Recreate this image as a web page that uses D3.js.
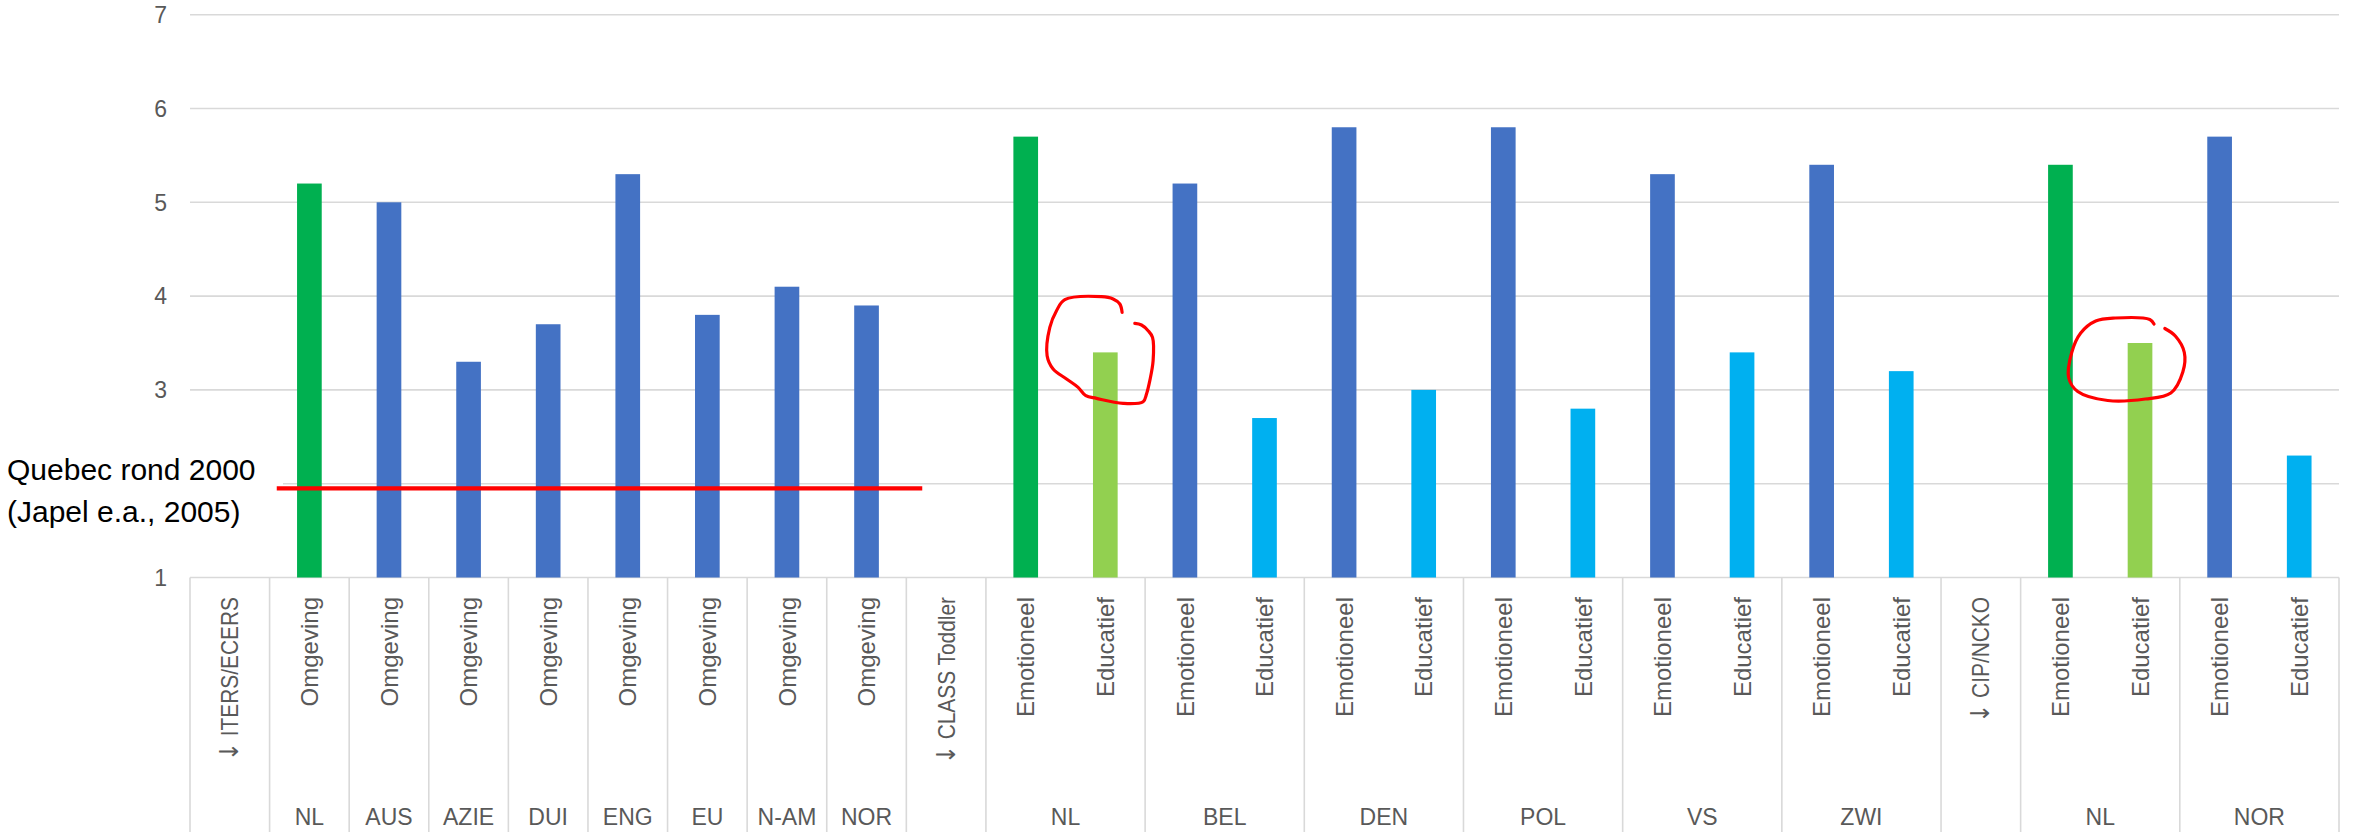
<!DOCTYPE html>
<html>
<head>
<meta charset="utf-8">
<script src="https://cdn.jsdelivr.net/npm/d3@7"></script>
<style>
  body { margin: 0; background: #fff; }
  svg { display: block; }
</style>
</head>
<body>
<svg id="chart"></svg>
<script>
// ---- data ----
const subLabels = [
  "↓ ITERS/ECERS",
  "Omgeving", "Omgeving", "Omgeving", "Omgeving", "Omgeving", "Omgeving", "Omgeving", "Omgeving",
  "↓ CLASS Toddler",
  "Emotioneel", "Educatief", "Emotioneel", "Educatief", "Emotioneel", "Educatief",
  "Emotioneel", "Educatief", "Emotioneel", "Educatief", "Emotioneel", "Educatief",
  "↓ CIP/NCKO",
  "Emotioneel", "Educatief", "Emotioneel", "Educatief"
];
const groupLabels = ["", "NL", "AUS", "AZIE", "DUI", "ENG", "EU", "N-AM", "NOR",
  "", "NL", "BEL", "DEN", "POL", "VS", "ZWI", "", "NL", "NOR"];
const groupSizes = [1, 1, 1, 1, 1, 1, 1, 1, 1, 1, 2, 2, 2, 2, 2, 2, 1, 2, 2];
const scores = [
  null, 5.2, 5.0, 3.3, 3.7, 5.3, 3.8, 4.1, 3.9,
  null, 5.7, 3.4, 5.2, 2.7, 5.8, 3.0, 5.8, 2.8, 5.3, 3.4, 5.4, 3.2,
  null, 5.4, 3.5, 5.7, 2.3
];
const seriesKeys = [
  null, "nlMain", "main", "main", "main", "main", "main", "main", "main",
  null, "nlMain", "nlEdu", "main", "edu", "main", "edu", "main", "edu", "main", "edu", "main", "edu",
  null, "nlMain", "nlEdu", "main", "edu"
];
const yTicks = [1, 2, 3, 4, 5, 6, 7];
const quebecScore = 1.95;
const quebecText = ["Quebec rond 2000", "(Japel e.a., 2005)"];

// ---- layout ----
const W = 2353, H = 832;
const plot = { left: 190, right: 2339, top: 14.7, bottom: 577.5 };
const COLORS = { nlMain: "#00B050", nlEdu: "#92D050", main: "#4472C4", edu: "#00B0F0" };
const GRID = "#D9D9D9", TEXT = "#595959";
// white text box of the Quebec note, it hides the start of the axis
const noteBox = { x: 0, y: 448, w: 283, h: 88 };

const svg = d3.select("#chart").attr("width", W).attr("height", H);

const idx = d3.range(subLabels.length);
const x = d3.scaleBand()
  .domain(idx)
  .range([plot.left, plot.right])
  .paddingInner(0.69)
  .paddingOuter(0.345);
const step = x.step();
const y = d3.scaleLinear().domain([1, 7]).range([plot.bottom, plot.top]);

// gridlines
svg.append("g").selectAll("line")
  .data(yTicks)
  .join("line")
  .attr("x1", plot.left).attr("x2", plot.right)
  .attr("y1", d => y(d)).attr("y2", d => y(d))
  .attr("stroke", GRID).attr("stroke-width", 1.6);

// y tick labels (the one under the note box is hidden in the original)
svg.append("g").selectAll("text")
  .data(yTicks.filter(d => y(d) < noteBox.y || y(d) > noteBox.y + noteBox.h))
  .join("text")
  .attr("x", 167).attr("y", d => y(d))
  .attr("dy", "0.36em")
  .attr("text-anchor", "end")
  .attr("fill", TEXT)
  .style("font", "23px 'Liberation Sans', Arial, sans-serif")
  .text(d => d);

// category separators (multi-level axis)
const bounds = [0, ...d3.cumsum(groupSizes)];
svg.append("g").selectAll("line")
  .data(bounds)
  .join("line")
  .attr("x1", d => plot.left + d * step).attr("x2", d => plot.left + d * step)
  .attr("y1", plot.bottom).attr("y2", H)
  .attr("stroke", GRID).attr("stroke-width", 1.6);

// bars
svg.append("g").selectAll("rect")
  .data(idx.filter(i => scores[i] != null))
  .join("rect")
  .attr("x", i => x(i))
  .attr("width", x.bandwidth())
  .attr("y", i => y(scores[i]))
  .attr("height", i => y(1) - y(scores[i]))
  .attr("fill", i => COLORS[seriesKeys[i]]);

// inner labels (rotated); section headers are a bit condensed, arrow from DejaVu Sans
const isHeader = i => subLabels[i].startsWith("↓");
const inner = svg.append("g").selectAll("text")
  .data(idx)
  .join("text")
  .attr("transform", i => `translate(${x(i) + x.bandwidth() / 2},597) rotate(-90)` +
    (isHeader(i) ? " scale(0.87,1)" : ""))
  .attr("text-anchor", "end")
  .attr("dy", "0.36em")
  .attr("fill", TEXT)
  .style("font", "24px 'Liberation Sans', Arial, sans-serif");
inner.each(function (i) {
  const t = d3.select(this);
  const label = subLabels[i];
  if (isHeader(i)) {
    t.append("tspan").style("font-family", "'DejaVu Sans'").style("font-size", "26px").text("↓");
    t.append("tspan").text(label.slice(1));
  } else {
    t.text(label);
  }
});

// outer (group) labels
svg.append("g").selectAll("text")
  .data(groupLabels.map((g, k) => ({ label: g, start: bounds[k], size: groupSizes[k] })))
  .join("text")
  .attr("x", d => plot.left + (d.start + d.size / 2) * step)
  .attr("y", 825)
  .attr("text-anchor", "middle")
  .attr("fill", TEXT)
  .style("font", "23px 'Liberation Sans', Arial, sans-serif")
  .text(d => d.label);

// Quebec note box + reference line
svg.append("rect")
  .attr("x", noteBox.x).attr("y", noteBox.y)
  .attr("width", noteBox.w).attr("height", noteBox.h)
  .attr("fill", "#fff");

svg.append("line")
  .attr("x1", plot.left + 1.09 * step).attr("x2", plot.left + 9.2 * step)
  .attr("y1", y(quebecScore)).attr("y2", y(quebecScore))
  .attr("stroke", "#FF0000").attr("stroke-width", 4.3);

svg.append("g").selectAll("text")
  .data(quebecText)
  .join("text")
  .attr("x", 7)
  .attr("y", (d, i) => 480 + i * 42)
  .attr("fill", "#000")
  .style("font", "30px 'Liberation Sans', Arial, sans-serif")
  .text(d => d);

// hand-drawn red circles around the two "Educatief" NL bars (offsets from bar top centre, px)
const scribbles = [
  { bar: 11, pts: [[16.8,-40],[14.5,-48.4],[7.8,-53.4],[-3.8,-55.7],[-40.5,-52.7],[-48.8,-41.7],[-55.5,-25],
    [-58.2,3.3],[-52.2,16.6],[-38.8,26.6],[-27.2,35],[-19.5,43.3],[-8.8,46],[17.8,51],[37.8,49.3],
    [41.2,41.6],[44.5,28.3],[47.8,8.3],[47.2,-15],[42.8,-21.7],[36.2,-27.4],[29.5,-29]] },
  { bar: 24, pts: [[14,-19],[9.8,-23.5],[-24.7,-25],[-44.3,-22],[-59.3,-10],[-68.3,9.5],[-71.3,35],
    [-62.3,48.5],[-32.3,57.5],[5.3,56],[30.8,50],[42.8,29],[44.3,9.5],[35.3,-7],[24.8,-14.5]] }
];
const scribble = d3.line().curve(d3.curveCatmullRom.alpha(0.5));
svg.append("g").selectAll("path")
  .data(scribbles)
  .join("path")
  .attr("d", s => {
    const cx = x(s.bar) + x.bandwidth() / 2, cy = y(scores[s.bar]);
    return scribble(s.pts.map(p => [cx + p[0], cy + p[1]]));
  })
  .attr("fill", "none")
  .attr("stroke", "#FF0000")
  .attr("stroke-width", 3.2)
  .attr("stroke-linecap", "round")
  .attr("stroke-linejoin", "round");
</script>
</body>
</html>
